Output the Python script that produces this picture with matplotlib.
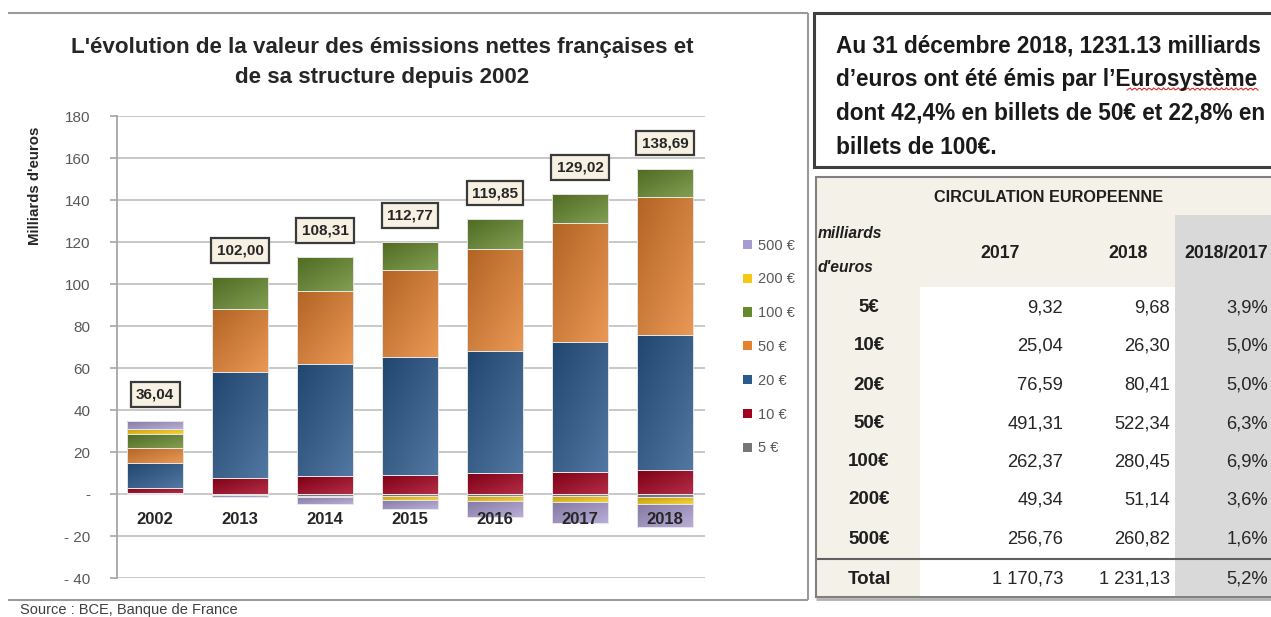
import numpy as np
import matplotlib
matplotlib.use("Agg")
import matplotlib.pyplot as plt
from matplotlib.patches import Rectangle
from matplotlib.colors import to_rgb
from matplotlib import font_manager as fm

# ---------------------------------------------------------
# Donnees
# ---------------------------------------------------------
years = ["2002", "2013", "2014", "2015", "2016", "2017", "2018"]
net_labels = ["36,04", "102,00", "108,31", "112,77", "119,85", "129,02", "138,69"]

series_names = ["5 €", "10 €", "20 €", "50 €", "100 €", "200 €", "500 €"]
b5 = [0.6, -0.6, -0.8, -0.8, -0.9, -1.0, -1.5]
b10 = [2.4, 7.8, 8.5, 9.1, 9.8, 10.6, 11.2]
b20 = [11.6, 50.1, 53.2, 56.0, 58.5, 61.8, 64.5]
b50 = [7.2, 30.0, 35.1, 41.6, 48.4, 56.5, 65.9]
b100 = [6.6, 15.6, 16.2, 13.4, 14.1, 14.0, 13.0]
b200 = [2.4, 0.0, -0.4, -2.0, -2.3, -2.9, -3.2]
b500 = [4.1, -1.0, -3.5, -4.5, -7.7, -10.0, -11.2]
series_colors = ["#767676", "#a2001d", "#2b5a8e", "#e5812f", "#66892c", "#f5c814", "#a89bcf"]

box_lines = [
    "Au 31 décembre 2018, 1231.13 milliards",
    "d\u2019euros ont été émis par l\u2019Eurosystème",
    "dont 42,4% en billets de 50€ et 22,8% en",
    "billets de 100€.",
]

tab_rows = ["5€", "10€", "20€", "50€", "100€", "200€", "500€", "Total"]
tab_2017 = ["9,32", "25,04", "76,59", "491,31", "262,37", "49,34", "256,76", "1 170,73"]
tab_2018 = ["9,68", "26,30", "80,41", "522,34", "280,45", "51,14", "260,82", "1 231,13"]
tab_var = ["3,9%", "5,0%", "5,0%", "6,3%", "6,9%", "3,6%", "1,6%", "5,2%"]


def pick_family(names):
    for n in names:
        try:
            fm.findfont(fm.FontProperties(family=n), fallback_to_default=False)
            return [n, "DejaVu Sans"]
        except Exception:
            pass
    return ["DejaVu Sans"]


FONT = pick_family(["Liberation Sans"])
NARROW = pick_family(["Liberation Sans Narrow", "Liberation Sans"])

W, H = 1271, 617
fig = plt.figure(figsize=(W / 100, H / 100), dpi=100)
renderer = fig.canvas.get_renderer()


def fit(t, target_px):
    w = t.get_window_extent(renderer).width
    t.set_fontsize(t.get_fontsize() * target_px / w)
    return t.get_fontsize()


def gradient_fill(ax, patch, color):
    # degrade facon Excel : sombre en haut a gauche, clair en bas a droite
    c = np.array(to_rgb(color))
    dark = c * 0.78
    light = c + (1 - c) * 0.18
    gx, gy = np.meshgrid(np.linspace(0, 1, 24), np.linspace(0, 1, 24))
    t = ((gx + (1 - gy)) / 2)[..., None]
    img = dark + t * (light - dark)
    x0, y0 = patch.get_x(), patch.get_y()
    w, h = patch.get_width(), patch.get_height()
    im = ax.imshow(img, extent=[x0, x0 + w, min(y0, y0 + h), max(y0, y0 + h)],
                   origin="lower", aspect="auto", interpolation="bilinear", zorder=2.9)
    im.set_clip_path(patch)
    patch.set_facecolor("none")


# calque en pixels pour les cadres et textes hors graphique
ov = fig.add_axes([0, 0, 1, 1], zorder=0)
ov.set_xlim(0, W)
ov.set_ylim(H, 0)
ov.axis("off")

# ---------------------------------------------------------
# Cadre du graphique
# ---------------------------------------------------------
ov.hlines(13, 8, 808, color="#9a9a9a", lw=1.5)
ov.vlines(808, 13, 600, color="#9a9a9a", lw=1.5)
ov.hlines(600, 8, 808, color="#9a9a9a", lw=1.5)

t1 = ov.text(382, 47, "L'évolution de la valeur des émissions nettes françaises et",
             ha="center", va="center", fontsize=14, weight="bold", family=FONT, color="#262626")
s = fit(t1, 626)
ov.text(382, 77, "de sa structure depuis 2002", ha="center", va="center",
        fontsize=s, weight="bold", family=FONT, color="#262626")

ov.text(35, 186, "Milliards d'euros", rotation=90, ha="center", va="center",
        fontsize=10.8, weight="bold", family=FONT, color="#262626")

ov.text(20, 610, "Source : BCE, Banque de France", ha="left", va="center",
        fontsize=10.5, family=FONT, color="#404040")

# ---------------------------------------------------------
# Graphique en barres empilees
# ---------------------------------------------------------
ax = fig.add_axes([117 / W, 1 - 578 / H, (705 - 117) / W, (578 - 116) / H], zorder=2)
x = np.arange(len(years))
pos = np.zeros(len(years))
neg = np.zeros(len(years))
for vals, col in zip([b5, b10, b20, b50, b100, b200, b500], series_colors):
    v = np.array(vals)
    bottom = np.where(v >= 0, pos, neg)
    bars = ax.bar(x, v, 0.66, bottom=bottom, color=col, edgecolor="#e6e6e6",
                  linewidth=0.7, zorder=3)
    for p in bars:
        if p.get_height() != 0:
            gradient_fill(ax, p, col)
    pos = pos + np.where(v >= 0, v, 0)
    neg = neg + np.where(v < 0, v, 0)

for i, lab in enumerate(net_labels):
    ax.text(x[i], pos[i] + 12.5, lab, ha="center", va="center", fontsize=11,
            weight="bold", family=FONT, color="#262626", zorder=5,
            bbox=dict(boxstyle="square,pad=0.35", fc="#f6f1e2", ec="#3a3a3a", lw=1.6))

for i, y in enumerate(years):
    ax.text(x[i], -12, y, ha="center", va="center", fontsize=12, weight="bold",
            family=FONT, color="#262626", zorder=5)

ax.set_xlim(-0.45, 6.47)
ax.set_ylim(-40, 180)
ax.set_yticks(np.arange(-40, 181, 20))
ax.set_yticklabels(["-" if v == 0 else ("- %d" % -v if v < 0 else "%d" % v)
                    for v in np.arange(-40, 181, 20)])
ax.set_xticks([])
ax.grid(axis="y", color="#c4c4c4", lw=1.3, zorder=0)
for side in ["top", "right", "bottom"]:
    ax.spines[side].set_visible(False)
ax.spines["left"].set_color("#a6a6a6")
ax.spines["left"].set_linewidth(1.3)
ax.tick_params(axis="y", length=5, width=1.2, color="#a6a6a6", labelsize=11,
               labelcolor="#595959", pad=14)
for lab in ax.get_yticklabels():
    lab.set_family(FONT)

handles = [Rectangle((0, 0), 1, 1, fc=c) for c in series_colors[::-1]]
ax.legend(handles, series_names[::-1], loc="center left",
          bbox_to_anchor=(730 / W, 1 - 347 / H), bbox_transform=fig.transFigure,
          frameon=False, handlelength=0.6, handleheight=0.6, handletextpad=0.4,
          labelspacing=1.36, prop={"family": FONT, "size": 10.5}, labelcolor="#595959")

# ---------------------------------------------------------
# Encadre de texte
# ---------------------------------------------------------
ov.add_patch(Rectangle((814, 13), 480, 154, fc="white", ec="#3f3f3f", lw=2.2))
bt = ov.text(836, 46, box_lines[0], ha="left", va="center", fontsize=13,
             weight="bold", family=FONT, color="#1a1a1a")
s = fit(bt, 424)
for k, line in enumerate(box_lines[1:], start=1):
    ov.text(836, 46 + 33.7 * k, line, ha="left", va="center", fontsize=s,
            weight="bold", family=FONT, color="#1a1a1a")
# soulignement du correcteur
xs = np.linspace(1127, 1258, 80)
ov.plot(xs, 89 + 1.2 * np.sin(xs * 1.3), color="#e03030", lw=0.8)

# ---------------------------------------------------------
# Tableau circulation europeenne
# ---------------------------------------------------------
ov.add_patch(Rectangle((816, 177), 480, 420, fc="#f3f1e8", ec="#808080", lw=1.5))
ov.add_patch(Rectangle((920, 287), 255, 309, fc="white", ec="none"))
ov.add_patch(Rectangle((1175, 215), 120, 381, fc="#d9d9d9", ec="none"))
ov.hlines(559, 817, W, color="#606060", lw=1.5)
ov.hlines(599, 816, W, color="#b0b0b0", lw=2)

th = ov.text(1049, 198, "CIRCULATION EUROPEENNE", ha="center", va="center",
             fontsize=12, weight="bold", family=NARROW, color="#1f1f1f")
fit(th, 228)
hh = ov.text(1268, 253, "2018/2017", ha="right", va="center", fontsize=12,
             weight="bold", family=NARROW, color="#1f1f1f")
s = fit(hh, 83)
ov.text(1000, 253, "2017", ha="center", va="center", fontsize=s, weight="bold",
        family=NARROW, color="#1f1f1f")
ov.text(1128, 253, "2018", ha="center", va="center", fontsize=s, weight="bold",
        family=NARROW, color="#1f1f1f")
mi = ov.text(818, 234, "milliards", ha="left", va="center", fontsize=11,
             style="italic", weight="bold", family=NARROW, color="#1f1f1f")
s = fit(mi, 64)
ov.text(818, 268, "d'euros", ha="left", va="center", fontsize=s, style="italic",
        weight="bold", family=NARROW, color="#1f1f1f")

row_y = [308, 346, 385, 424, 462, 500, 539, 579]
rl = ov.text(869, row_y[-1], tab_rows[-1], ha="center", va="center", fontsize=12,
             weight="bold", family=NARROW, color="#1f1f1f")
s_row = fit(rl, 43)
nt = ov.text(1063, row_y[3], tab_2017[3], ha="right", va="center", fontsize=12,
             family=NARROW, color="#262626")
s_num = fit(nt, 56)
nt.remove()
for k in range(len(tab_rows)):
    if k < len(tab_rows) - 1:
        ov.text(869, row_y[k], tab_rows[k], ha="center", va="center", fontsize=s_row,
                weight="bold", family=NARROW, color="#1f1f1f")
    ov.text(1063, row_y[k], tab_2017[k], ha="right", va="center", fontsize=s_num,
            family=NARROW, color="#262626")
    ov.text(1170, row_y[k], tab_2018[k], ha="right", va="center", fontsize=s_num,
            family=NARROW, color="#262626")
    ov.text(1268, row_y[k], tab_var[k], ha="right", va="center", fontsize=s_num,
            family=NARROW, color="#262626")

fig.savefig("out.png", dpi=100)
